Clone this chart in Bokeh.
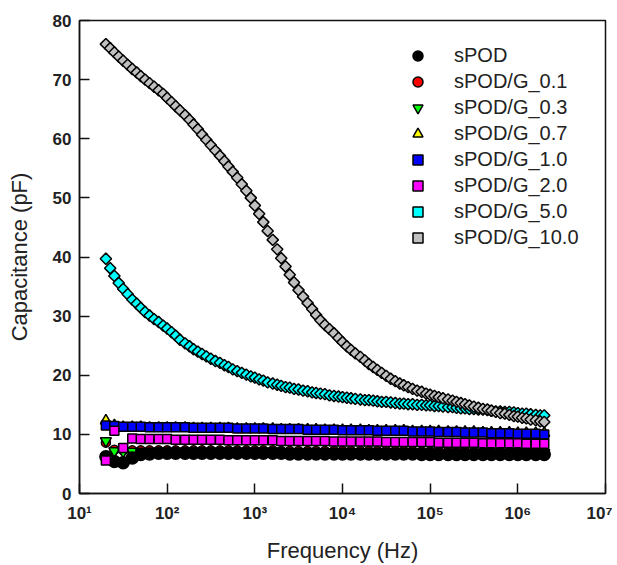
from bokeh.plotting import figure
from bokeh.models import (FixedTicker, CustomJSTickFormatter, Legend, LegendItem,
                          Range1d)
from bokeh.embed import file_html
from bokeh.resources import INLINE
import math

# ---------------- data ----------------
# coarse frequency grid (Hz), 10 points per decade, 20 Hz .. 2 MHz
freq_hz = [20, 25, 31.5, 40, 50, 63, 80,
           100, 125, 160, 200, 250, 315, 400, 500, 630, 800,
           1e3, 1.25e3, 1.6e3, 2e3, 2.5e3, 3.15e3, 4e3, 5e3, 6.3e3, 8e3,
           1e4, 1.25e4, 1.6e4, 2e4, 2.5e4, 3.15e4, 4e4, 5e4, 6.3e4, 8e4,
           1e5, 1.25e5, 1.6e5, 2e5, 2.5e5, 3.15e5, 4e5, 5e5, 6.3e5, 8e5,
           1e6, 1.25e6, 1.6e6, 2e6]

# fine frequency grid (Hz), 20 points per decade, 20 Hz .. 2 MHz
freq_fine_hz = [20, 22.4, 25, 28, 31.5, 35.5, 40, 45, 50, 56, 63, 71, 80, 90,
                100, 112, 125, 140, 160, 180, 200, 224, 250, 280, 315, 355, 400, 450, 500, 560, 630, 710, 800, 900,
                1e3, 1.12e3, 1.25e3, 1.4e3, 1.6e3, 1.8e3, 2e3, 2.24e3, 2.5e3, 2.8e3, 3.15e3, 3.55e3, 4e3, 4.5e3, 5e3, 5.6e3, 6.3e3, 7.1e3, 8e3, 9e3,
                1e4, 1.12e4, 1.25e4, 1.4e4, 1.6e4, 1.8e4, 2e4, 2.24e4, 2.5e4, 2.8e4, 3.15e4, 3.55e4, 4e4, 4.5e4, 5e4, 5.6e4, 6.3e4, 7.1e4, 8e4, 9e4,
                1e5, 1.12e5, 1.25e5, 1.4e5, 1.6e5, 1.8e5, 2e5, 2.24e5, 2.5e5, 2.8e5, 3.15e5, 3.55e5, 4e5, 4.5e5, 5e5, 5.6e5, 6.3e5, 7.1e5, 8e5, 9e5,
                1e6, 1.12e6, 1.25e6, 1.4e6, 1.6e6, 1.8e6, 2e6]

# capacitance (pF) on the coarse grid
cap_spod = [6.2, 5.4, 5.2, 6.0, 6.6, 6.7, 6.8, 6.8, 6.8, 6.8, 6.8, 6.8, 6.8, 6.8, 6.8, 6.8, 6.8,
            6.8, 6.8, 6.8, 6.8, 6.7, 6.7, 6.7, 6.7, 6.7, 6.7, 6.7, 6.7, 6.7, 6.7, 6.7, 6.7, 6.7,
            6.7, 6.7, 6.6, 6.6, 6.6, 6.6, 6.6, 6.6, 6.6, 6.6, 6.6, 6.6, 6.6, 6.6, 6.6, 6.6, 6.6]
cap_g01 = [8.6, 7.4, 7.3, 7.3, 7.3, 7.3, 7.3, 7.3, 7.3, 7.3, 7.3, 7.3, 7.3, 7.3, 7.3, 7.3, 7.3,
           7.3, 7.3, 7.3, 7.2, 7.2, 7.2, 7.2, 7.2, 7.2, 7.2, 7.2, 7.2, 7.2, 7.2, 7.2, 7.2, 7.2,
           7.2, 7.2, 7.1, 7.1, 7.1, 7.1, 7.1, 7.1, 7.1, 7.1, 7.1, 7.1, 7.1, 7.1, 7.1, 7.1, 7.1]
cap_g03 = [8.9, 7.2, 7.1, 7.1, 7.1, 7.1, 7.1, 7.1, 7.1, 7.1, 7.1, 7.1, 7.1, 7.1, 7.1, 7.1, 7.1,
           7.1, 7.1, 7.1, 7.0, 7.0, 7.0, 7.0, 7.0, 7.0, 7.0, 7.0, 7.0, 7.0, 7.0, 7.0, 7.0, 7.0,
           7.0, 7.0, 6.9, 6.9, 6.9, 6.9, 6.9, 6.9, 6.9, 6.9, 6.9, 6.9, 6.9, 6.9, 6.9, 6.9, 6.9]
cap_g07 = [12.3, 11.5, 11.2, 11.2, 11.2, 11.1, 11.1, 11.1, 11.1, 11.1, 11.0, 11.0, 11.0, 11.0, 11.0, 10.9, 10.9,
           10.9, 10.9, 10.9, 10.8, 10.8, 10.8, 10.8, 10.8, 10.7, 10.7, 10.7, 10.7, 10.7, 10.6, 10.6, 10.6, 10.6,
           10.6, 10.5, 10.5, 10.5, 10.5, 10.4, 10.4, 10.4, 10.4, 10.3, 10.3, 10.3, 10.3, 10.2, 10.2, 10.2, 10.2]
cap_g10 = [11.5, 11.4, 11.3, 11.3, 11.3, 11.2, 11.2, 11.2, 11.2, 11.2, 11.1, 11.1, 11.1, 11.1, 11.1, 11.0, 11.0,
           11.0, 11.0, 10.9, 10.9, 10.9, 10.9, 10.8, 10.8, 10.8, 10.8, 10.7, 10.7, 10.7, 10.7, 10.6, 10.6, 10.6,
           10.6, 10.5, 10.5, 10.5, 10.4, 10.4, 10.4, 10.3, 10.3, 10.3, 10.2, 10.2, 10.2, 10.1, 10.1, 10.1, 10.0]
cap_g20 = [5.6, 10.6, 7.7, 9.3, 9.2, 9.2, 9.2, 9.2, 9.1, 9.1, 9.1, 9.1, 9.1, 9.1, 9.0, 9.0, 9.0,
           9.0, 9.0, 9.0, 8.9, 8.9, 8.9, 8.9, 8.9, 8.9, 8.8, 8.8, 8.8, 8.8, 8.8, 8.8, 8.7, 8.7,
           8.7, 8.7, 8.7, 8.7, 8.6, 8.6, 8.6, 8.6, 8.6, 8.5, 8.5, 8.5, 8.5, 8.5, 8.4, 8.4, 8.4]

# capacitance (pF) on the fine grid
cap_g50 = [39.7, 38.1, 36.8, 35.6, 34.6, 33.7, 32.8, 32.1, 31.4, 30.7, 30.1, 29.5, 29.0, 28.4,
           27.9, 27.3, 26.7, 26.0, 25.4, 24.9, 24.4, 24.0, 23.6, 23.2, 22.8, 22.4, 22.1, 21.7, 21.4, 21.0, 20.7, 20.4, 20.1, 19.8,
           19.6, 19.3, 19.1, 18.8, 18.6, 18.4, 18.2, 18.0, 17.9, 17.7, 17.6, 17.4, 17.3, 17.1, 17.0, 16.9, 16.8, 16.6, 16.5, 16.4,
           16.3, 16.2, 16.1, 16.0, 15.9, 15.8, 15.8, 15.7, 15.6, 15.5, 15.5, 15.4, 15.3, 15.2, 15.2, 15.1, 15.1, 15.0, 15.0, 14.9,
           14.9, 14.8, 14.8, 14.7, 14.6, 14.6, 14.5, 14.4, 14.4, 14.3, 14.3, 14.2, 14.2, 14.1, 14.0, 13.9, 13.9, 13.8, 13.8, 13.7,
           13.6, 13.5, 13.5, 13.4, 13.3, 13.2, 13.2]
cap_g100 = [76.0, 75.3, 74.6, 73.9, 73.2, 72.5, 71.8, 71.2, 70.6, 70.0, 69.4, 68.8, 68.2, 67.6,
            66.9, 66.2, 65.5, 64.8, 64.0, 63.2, 62.4, 61.6, 60.7, 59.8, 58.9, 58.0, 57.1, 56.2, 55.3, 54.4, 53.4, 52.3, 51.2, 50.0,
            48.7, 47.3, 45.9, 44.4, 42.9, 41.3, 39.8, 38.4, 37.0, 35.7, 34.4, 33.3, 32.2, 31.2, 30.2, 29.3, 28.5, 27.8, 27.1, 26.3,
            25.6, 24.9, 24.3, 23.7, 23.1, 22.5, 21.9, 21.4, 20.9, 20.4, 19.9, 19.4, 19.0, 18.6, 18.3, 18.0, 17.7, 17.4, 17.2, 16.9,
            16.7, 16.5, 16.3, 16.1, 15.9, 15.7, 15.5, 15.3, 15.1, 14.9, 14.7, 14.5, 14.3, 14.2, 14.0, 13.8, 13.6, 13.5, 13.3, 13.1,
            13.0, 12.8, 12.7, 12.5, 12.4, 12.2, 12.1]

series_names = ["sPOD", "sPOD/G_0.1", "sPOD/G_0.3", "sPOD/G_0.7",
                "sPOD/G_1.0", "sPOD/G_2.0", "sPOD/G_5.0", "sPOD/G_10.0"]
x_ticks = [10, 100, 1000, 10000, 100000, 1000000, 10000000]
y_ticks = [0, 10, 20, 30, 40, 50, 60, 70, 80]

# ---------------- figure ----------------
FONT = "Liberation Sans"
p = figure(width=612, height=565, x_axis_type="log",
           x_range=Range1d(10, 1e7), y_range=Range1d(0, 80),
           output_backend="svg", toolbar_location=None,
           min_border_left=79, min_border_right=7, min_border_top=20,
           min_border_bottom=72,
           x_axis_label="Frequency (Hz)", y_axis_label="Capacitance (pF)")
p.xgrid.visible = False
p.ygrid.visible = False
p.outline_line_color = "#111111"
p.outline_line_width = 1.5
p.background_fill_color = "white"
p.border_fill_color = "white"

p.xaxis.ticker = FixedTicker(ticks=x_ticks, minor_ticks=[])
p.yaxis.ticker = FixedTicker(ticks=y_ticks, minor_ticks=[])
p.xaxis.formatter = CustomJSTickFormatter(code="""
const sup = {'0':'\u2070','1':'\u00b9','2':'\u00b2','3':'\u00b3','4':'\u2074',
             '5':'\u2075','6':'\u2076','7':'\u2077','8':'\u2078','9':'\u2079'};
const e = Math.round(Math.log10(tick));
return '10' + String(e).split('').map(c => sup[c]).join('');
""")

for ax in (p.xaxis[0], p.yaxis[0]):
    ax.axis_line_color = "#111111"
    ax.axis_line_width = 1.5
    ax.major_tick_line_color = "#111111"
    ax.major_tick_line_width = 1.5
    ax.major_tick_in = 10
    ax.major_tick_out = 0
    ax.minor_tick_in = 0
    ax.minor_tick_out = 0
    ax.major_label_text_font = FONT
    ax.major_label_text_font_style = "bold"
    ax.major_label_text_font_size = "17px"
    ax.major_label_text_color = "#222222"
    ax.axis_label_text_font = FONT
    ax.axis_label_text_font_style = "normal"
    ax.axis_label_text_font_size = "22px"
    ax.axis_label_text_color = "#222222"

p.yaxis.major_label_standoff = 8
p.yaxis.axis_label_standoff = 18
p.xaxis.major_label_standoff = 10
p.xaxis.axis_label_standoff = 12

# ---------------- glyphs ----------------
LW = 1.5
r_g01 = p.scatter(freq_hz, cap_g01, marker="circle", size=9, fill_color="#ff0000",
                  line_color="black", line_width=LW)
r_g03 = p.scatter(freq_hz, cap_g03, marker="inverted_triangle", size=11, fill_color="#00ff00",
                  line_color="black", line_width=LW)
r_spod = p.scatter(freq_hz, cap_spod, marker="circle", size=12, fill_color="black",
                   line_color="black", line_width=LW)
r_g07 = p.scatter(freq_hz, cap_g07, marker="triangle", size=11, fill_color="#ffff00",
                  line_color="black", line_width=LW)
r_g10 = p.scatter(freq_hz, cap_g10, marker="square", size=9, fill_color="#0000ff",
                  line_color="black", line_width=LW)
r_g20 = p.scatter(freq_hz, cap_g20, marker="square", size=9, fill_color="#ff00ff",
                  line_color="black", line_width=LW)
r_g50 = p.scatter(freq_fine_hz, cap_g50, marker="square", angle=math.pi / 4, size=8,
                  fill_color="#00ffff", line_color="black", line_width=LW)
r_g100 = p.scatter(freq_fine_hz, cap_g100, marker="square", angle=math.pi / 4, size=8,
                   fill_color="#c0c0c0", line_color="black", line_width=LW)

renderers = [r_spod, r_g01, r_g03, r_g07, r_g10, r_g20, r_g50, r_g100]
legend = Legend(items=[LegendItem(label=n, renderers=[r]) for n, r in zip(series_names, renderers)],
                location=(326, 243), orientation="vertical",
                glyph_width=25, glyph_height=25, label_height=25, spacing=1,
                padding=5, margin=0, label_standoff=24,
                label_text_font=FONT, label_text_font_size="20px",
                label_text_color="#222222",
                border_line_color=None, background_fill_alpha=0)
p.add_layout(legend)

open("out.html", "w").write(file_html(p, INLINE))
